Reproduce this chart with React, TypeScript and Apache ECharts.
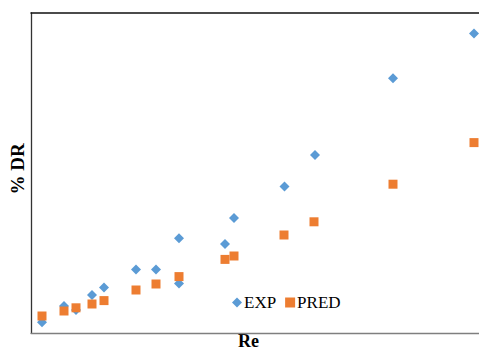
import React, { useEffect, useRef } from "react";
import * as echarts from "echarts";

// Re values (arbitrary units read from horizontal position)
const reExp = [1100, 3300, 4500, 6100, 7300, 10500, 12500, 14800, 14800, 19400, 20300, 25350, 28400, 36200, 44300];
const drExp = [2.7, 6.75, 5.75, 9.5, 11.4, 15.9, 15.9, 23.7, 12.4, 22.25, 28.75, 36.6, 44.5, 63.7, 74.9];

const rePred = [1100, 3300, 4500, 6100, 7300, 10500, 12500, 14800, 19400, 20300, 25300, 28300, 36200, 44300];
const drPred = [4.25, 5.5, 6.3, 7.25, 8.1, 10.75, 12.25, 14.1, 18.4, 19.25, 24.5, 27.8, 37.2, 47.6];

const seriesNames = ["EXP", "PRED"];
const xTitle = "Re";
const yTitle = "% DR";

export default function App() {
  const ref = useRef<HTMLDivElement>(null);
  useEffect(() => {
    const chart = echarts.init(ref.current!, null, { renderer: "svg" });
    const font = "'Liberation Serif', 'Times New Roman', serif";
    chart.setOption({
      animation: false,
      backgroundColor: "#ffffff",
      grid: { left: 31, top: 13, right: -2, bottom: 17 },
      legend: {
        left: 232,
        top: 294,
        itemWidth: 10,
        itemHeight: 10,
        itemGap: 9,
        padding: 0,
        textStyle: { fontFamily: font, fontSize: 17, color: "#000", padding: [0, 0, 0, -3] },
        data: [
          { name: seriesNames[0], icon: "diamond" },
          { name: seriesNames[1], icon: "rect" },
        ],
      },
      xAxis: [
        {
          type: "value",
          min: 0,
          max: 44800,
          axisLine: { show: true, lineStyle: { color: "#7f7f7f", width: 1.3 } },
          axisTick: { show: false },
          axisLabel: { show: false },
          splitLine: { show: false },
        },
        {
          type: "value",
          position: "top",
          min: 0,
          max: 44800,
          axisLine: { show: true, lineStyle: { color: "#111", width: 1.5 } },
          axisTick: { show: false },
          axisLabel: { show: false },
          splitLine: { show: false },
        },
      ],
      yAxis: {
        type: "value",
        min: 0,
        max: 80,
        axisLine: { show: true, lineStyle: { color: "#333", width: 1.3 } },
        axisTick: { show: false },
        axisLabel: { show: false },
        splitLine: { show: false },
      },
      graphic: [
        {
          type: "text",
          x: 248.5,
          y: 341,
          style: {
            text: xTitle,
            fontFamily: font,
            fontWeight: "bold",
            fontSize: 18,
            fill: "#000",
            align: "center",
            verticalAlign: "middle",
          },
        },
        {
          type: "text",
          x: 17.5,
          y: 169,
          rotation: Math.PI / 2,
          style: {
            text: yTitle,
            fontFamily: font,
            fontWeight: "bold",
            fontSize: 19,
            fill: "#000",
            align: "center",
            verticalAlign: "middle",
          },
        },
      ],
      series: [
        {
          name: seriesNames[0],
          type: "scatter",
          symbol: "diamond",
          symbolSize: 10,
          itemStyle: { color: "#5B9BD5", opacity: 1 },
          data: reExp.map((x, i) => [x, drExp[i]]),
          z: 2,
        },
        {
          name: seriesNames[1],
          type: "scatter",
          symbol: "rect",
          symbolSize: 9,
          itemStyle: { color: "#ED7D31", opacity: 1 },
          data: rePred.map((x, i) => [x, drPred[i]]),
          z: 3,
        },
      ],
    });
    return () => chart.dispose();
  }, []);
  return <div ref={ref} style={{ width: 479, height: 350, position: "absolute", left: 0, top: 0 }} />;
}
